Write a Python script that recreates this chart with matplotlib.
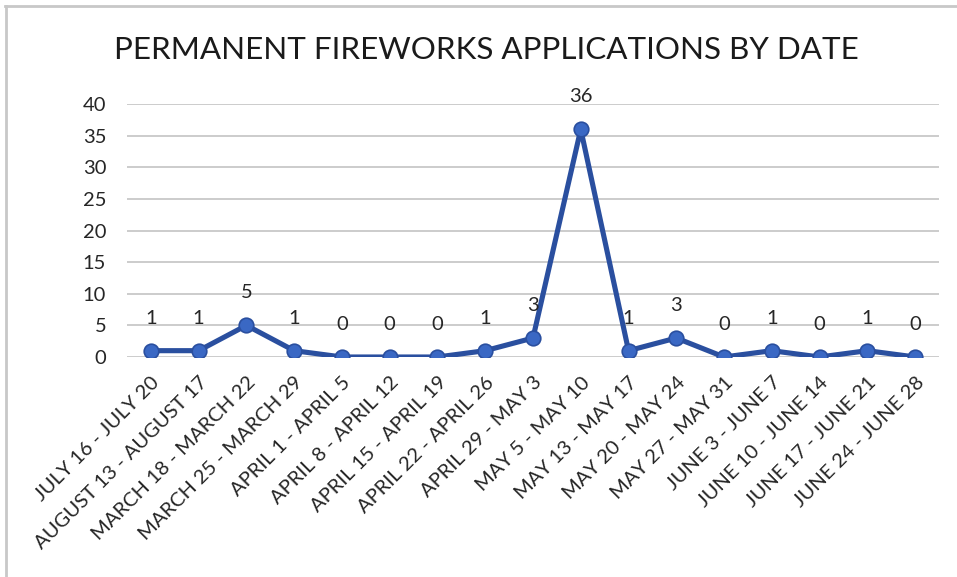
import matplotlib
matplotlib.use("Agg")
import matplotlib.pyplot as plt
from matplotlib.lines import Line2D

categories = ["JULY 16 - JULY 20", "AUGUST 13 - AUGUST 17", "MARCH 18 - MARCH 22",
              "MARCH 25 - MARCH 29", "APRIL 1 - APRIL 5", "APRIL 8 - APRIL 12",
              "APRIL 15 - APRIL 19", "APRIL 22 - APRIL 26", "APRIL 29 - MAY 3",
              "MAY 5 - MAY 10", "MAY 13 - MAY 17", "MAY 20 - MAY 24",
              "MAY 27 - MAY 31", "JUNE 3 - JUNE 7", "JUNE 10 - JUNE 14",
              "JUNE 17 - JUNE 21", "JUNE 24 - JUNE 28"]
values = [1, 1, 5, 1, 0, 0, 0, 1, 3, 36, 1, 3, 0, 1, 0, 1, 0]
yticks = [0, 5, 10, 15, 20, 25, 30, 35, 40]
title = "PERMANENT FIREWORKS APPLICATIONS BY DATE"

plt.rcParams['font.family'] = ['Lato', 'DejaVu Sans']

W, H = 957, 577
fig = plt.figure(figsize=(W / 100, H / 100), dpi=100)
ax = fig.add_axes([127 / W, (H - 357) / H, (939 - 127) / W, (357 - 104) / H])

x = list(range(len(categories)))
ax.plot(x, values, color='#2A4F9F', lw=3.7, marker='o', markersize=10.5,
        markerfacecolor='#3A68C4', markeredgecolor='#2A4F9F', markeredgewidth=1.2,
        solid_joinstyle='round', zorder=3)

for xi, v in zip(x, values):
    ax.annotate(str(v), (xi, v), xytext=(0, 23.5), textcoords='offset points',
                ha='center', va='center', fontsize=14.5, color='#262626')

ax.set_xlim(-0.5, len(categories) - 0.5)
ax.set_ylim(0, 40)
ax.set_yticks(yticks)
ax.set_yticklabels([str(t) for t in yticks], fontsize=14.5, color='#262626')
ax.set_xticks(x)
ax.set_xticklabels(categories, rotation=45, ha='right', va='top',
                   rotation_mode='anchor', fontsize=14.5, color='#262626')
ax.tick_params(axis='both', length=0)
ax.tick_params(axis='y', pad=15)
ax.tick_params(axis='x', pad=12)
ax.grid(axis='y', color='#C8C8C8', lw=1.3)
ax.set_axisbelow(True)
for s in ax.spines.values():
    s.set_visible(False)

fig.text(486 / W, 1 - 50 / H, title, ha='center', va='center', fontsize=22.6, color='#1a1a1a')

# frame lines (top and left)
fig.add_artist(Line2D([5 / W, 1], [1 - 5.5 / H, 1 - 5.5 / H], transform=fig.transFigure,
                      color='#C8C8C8', lw=2))
fig.add_artist(Line2D([6 / W, 6 / W], [0, 1 - 5.5 / H], transform=fig.transFigure,
                      color='#C8C8C8', lw=2))

fig.savefig("out.png", dpi=100)
